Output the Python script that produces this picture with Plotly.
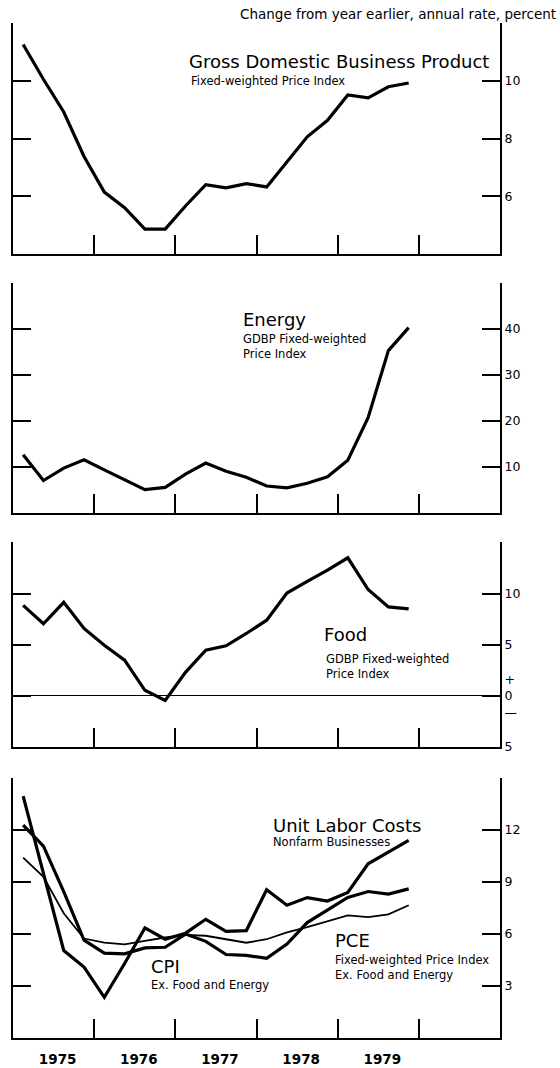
import plotly.graph_objects as go

# Quarterly observations, 1975 through 1979
quarters = [
    "1975Q1", "1975Q2", "1975Q3", "1975Q4",
    "1976Q1", "1976Q2", "1976Q3", "1976Q4",
    "1977Q1", "1977Q2", "1977Q3", "1977Q4",
    "1978Q1", "1978Q2", "1978Q3", "1978Q4",
    "1979Q1", "1979Q2", "1979Q3", "1979Q4",
]

# Change from year earlier, annual rate, percent
gdbp_price = [11.25, 10.05, 8.92, 7.38, 6.15, 5.61, 4.87, 4.87, 5.67, 6.41,
              6.30, 6.44, 6.33, 7.21, 8.06, 8.63, 9.51, 9.41, 9.79, 9.92]
energy_price = [12.6, 7.0, 9.7, 11.5, 9.3, 7.2, 5.0, 5.5, 8.4, 10.8,
                9.0, 7.7, 5.8, 5.4, 6.4, 7.8, 11.4, 20.7, 35.3, 40.3]
food_price = [8.85, 7.05, 9.15, 6.6, 4.95, 3.5, 0.55, -0.45, 2.3, 4.47,
              4.9, 6.1, 7.4, 10.05, 11.2, 12.3, 13.5, 10.4, 8.7, 8.5]
unit_labor_costs = [13.95, 9.5, 5.05, 4.1, 2.35, 4.3, 6.35, 5.7, 6.05, 6.85,
                    6.15, 6.2, 8.55, 7.66, 8.1, 7.9, 8.4, 10.05, 10.75, 11.4]
cpi_core = [12.28, 11.07, 8.45, 5.65, 4.9, 4.86, 5.2, 5.24, 6.0, 5.58,
            4.82, 4.77, 4.6, 5.42, 6.66, 7.41, 8.11, 8.45, 8.3, 8.6]
pce_core = [10.4, 9.3, 7.2, 5.74, 5.5, 5.4, 5.6, 5.8, 5.95, 5.9,
            5.7, 5.5, 5.7, 6.1, 6.4, 6.75, 7.07, 6.98, 7.13, 7.66]

year_labels = ["1975", "1976", "1977", "1978", "1979"]
year_bounds = [1976, 1977, 1978, 1979, 1980]

gdbp_ticks = [12, 10, 8, 6]
gdbp_ticktext = ["", "10", "8", "6"]
energy_ticks = [50, 40, 30, 20, 10]
energy_ticktext = ["", "40", "30", "20", "10"]
food_ticks = [15, 10, 5, 0, -5]
food_ticktext = ["", "10", "5", "+<br>0<br>\u2014", "5"]
labor_ticks = [15, 12, 9, 6, 3]
labor_ticktext = ["", "12", "9", "6", "3"]


def qpos(q):
    """Mid-quarter position in decimal years."""
    return int(q[:4]) + (int(q[5]) - 0.5) / 4


xq = [qpos(q) for q in quarters]

W, H = 560, 1068
FONT = "DejaVu Sans, Liberation Sans, Arial, sans-serif"
X0, X1 = 13, 500          # plot area, pixels from left
PANELS = [(23, 256), (285, 516), (546, 752), (783, 1045)]  # top, bottom in pixels


def ydom(top, bottom):
    return [1 - bottom / H, 1 - top / H]


fig = go.Figure()

series = [
    (1, gdbp_price, 3.2),
    (2, energy_price, 3.2),
    (3, food_price, 3.2),
    (4, unit_labor_costs, 3.2),
    (4, cpi_core, 3.2),
    (4, pce_core, 1.8),
]
for idx, vals, w in series:
    fig.add_trace(go.Scatter(
        x=xq, y=vals, mode="lines",
        line=dict(color="black", width=w),
        xaxis=f"x{idx}" if idx > 1 else "x",
        yaxis=f"y{idx}" if idx > 1 else "y",
        showlegend=False, hoverinfo="skip",
    ))

yspecs = [
    ([4, 12], gdbp_ticks, gdbp_ticktext),
    ([0, 50], energy_ticks, energy_ticktext),
    ([-5, 15], food_ticks, food_ticktext),
    ([0, 15], labor_ticks, labor_ticktext),
]

layout = dict(
    width=W, height=H,
    margin=dict(l=0, r=0, t=0, b=0),
    paper_bgcolor="white", plot_bgcolor="white",
    font=dict(family=FONT, color="black", size=12.5),
    showlegend=False,
)

for i, ((top, bottom), (yr, tv, tt)) in enumerate(zip(PANELS, yspecs), start=1):
    sfx = "" if i == 1 else str(i)
    last = i == 4
    layout[f"xaxis{sfx}"] = dict(
        domain=[X0 / W, X1 / W], range=[1975, 1981],
        anchor=f"y{sfx}",
        showline=True, linecolor="black", linewidth=2, mirror=False,
        showgrid=False, zeroline=False,
        tickmode="array",
        tickvals=[int(y) + 0.55 for y in year_labels],
        ticktext=year_labels,
        ticks="", showticklabels=last, ticklabelstandoff=8,
        tickfont=dict(family=FONT, size=13.5, color="black", weight="bold"),
        minor=dict(tickmode="array", tickvals=year_bounds, ticks="inside",
                   ticklen=19, tickwidth=1.5, tickcolor="black", showgrid=False),
        fixedrange=True,
    )
    layout[f"yaxis{sfx}"] = dict(
        domain=ydom(top, bottom), range=yr,
        anchor=f"x{sfx}", side="right",
        showline=True, linecolor="black", linewidth=2, mirror="ticks",
        ticks="inside", ticklen=18, tickwidth=1.5, tickcolor="black",
        tickmode="array", tickvals=tv, ticktext=tt,
        tickfont=dict(family=FONT, size=12.5, color="black"),
        showgrid=False,
        zeroline=(i == 3), zerolinecolor="black", zerolinewidth=1.2,
        fixedrange=True,
    )

fig.update_layout(**layout)


def label(text, px, pyy, size, anchor="left"):
    fig.add_annotation(
        text=text, xref="paper", yref="paper",
        x=px / W, y=1 - pyy / H, xanchor=anchor, yanchor="middle",
        showarrow=False, font=dict(family=FONT, size=size, color="black"),
    )


label("Change from year earlier, annual rate, percent", 558, 14, 13.5, anchor="right")

label("Gross Domestic Business Product", 187, 62, 18)
label("Fixed-weighted Price Index", 189, 82, 11.5)

label("Energy", 241, 322, 18)
label("GDBP Fixed-weighted", 241, 341, 11.5)
label("Price Index", 241, 356, 11.5)

label("Food", 322, 639, 18)
label("GDBP Fixed-weighted", 324, 663, 11.5)
label("Price Index", 324, 678, 11.5)

label("Unit Labor Costs", 271, 831, 18)
label("Nonfarm Businesses", 271, 848, 11.5)

label("CPI", 149, 973, 18)
label("Ex. Food and Energy", 149, 992, 11.5)

label("PCE", 333, 947, 18)
label("Fixed-weighted Price Index", 333, 966, 11.5)
label("Ex. Food and Energy", 333, 981, 11.5)

fig.write_html("out.html")
